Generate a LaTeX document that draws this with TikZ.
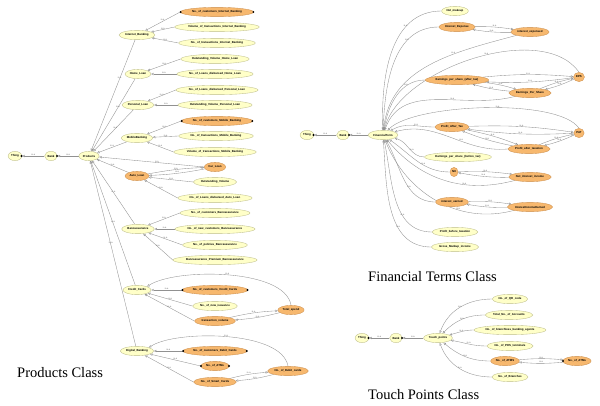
\documentclass[tikz,border=0pt]{standalone}
\usepackage{fontspec}
\setmainfont{Liberation Serif}
\newfontfamily\ndfam{Liberation Sans}
\usetikzlibrary{shapes.geometric,arrows.meta}
\definecolor{ylw}{RGB}{255,255,200}
\definecolor{ybd}{RGB}{190,190,140}
\definecolor{org}{RGB}{247,184,110}
\definecolor{obd}{RGB}{205,145,80}
\definecolor{eg}{RGB}{145,145,145}
\definecolor{lg}{RGB}{100,100,100}
\newcommand\ndfont{\ndfam\bfseries\fontsize{2.85}{3.2}\selectfont}
\newcommand\lbfont{\ndfam\fontsize{2.2}{2.5}\selectfont}
\pgfdeclarelayer{bg}
\pgfsetlayers{bg,main}
\tikzset{
  cls/.style={ellipse, draw=ybd, fill=ylw, line width=0.35pt, inner xsep=1pt, inner ysep=0pt, minimum height=9.3pt, font=\ndfont},
  hot/.style={cls, draw=obd, fill=org},
  isa/.style={draw=eg, line width=0.35pt, -{Triangle[open,length=2.5pt,width=2.3pt]}},
  lbl/.style={font=\lbfont, text=lg, inner sep=0.2pt, above},
  ttl/.style={font=\fontsize{14.5}{16}\selectfont, anchor=base west, inner sep=0pt},
}
\begin{document}
\begin{tikzpicture}[x=1pt,y=-1pt]
\useasboundingbox (0,0) rectangle (600,405);

% ---------------- Products ----------------
\node[cls] (T1) at (15,156) {Thing};
\node[cls] (B1) at (51,156) {Bank};
\node[cls] (P) at (89,156) {Products};
\node[cls] (IB) at (137,35) {Internet\_Banking};
\node[cls] (HL) at (138,74) {Home\_Loan};
\node[cls] (PL) at (138,105) {Personal\_Loan};
\node[cls] (MB) at (137,138) {MobileBanking};
\node[hot] (AL) at (137,176) {Auto\_Loan};
\node[cls] (BA) at (138,229) {Bancassurance};
\node[cls] (CC) at (137,290) {Credit\_Cards};
\node[cls] (DB) at (137,351) {Digital\_Banking};

\node[hot] (cIB1) at (217,12) {No.\_of\_customers\_Internet\_Banking};
\node[cls] (cIB2) at (217,27) {Volume\_of\_transactions\_Internet\_Banking};
\node[cls] (cIB3) at (217,43) {No.\_of\_transactions\_Internet\_Banking};
\node[cls] (cHL1) at (215,59) {Outstanding\_Volume\_Home\_Loan};
\node[cls] (cHL2) at (215,74) {No.\_of\_Loans\_disbursed\_Home\_Loan};
\node[cls] (cPL1) at (217,90) {No.\_of\_Loans\_disbursed\_Personal\_Loan};
\node[cls] (cPL2) at (215,105) {Outstanding\_Volume\_Personal\_Loan};
\node[hot] (cMB1) at (217,121) {No.\_of\_customers\_Mobile\_Banking};
\node[cls] (cMB2) at (216,136) {No.\_of\_transactions\_Mobile\_Banking};
\node[cls] (cMB3) at (215,152) {Volume\_of\_transactions\_Mobile\_Banking};
\node[hot] (CL) at (215,167) {Car\_Loan};
\node[cls] (cAL2) at (215,182) {Outstanding\_Volume};
\node[cls] (cAL3) at (215,198) {No.\_of\_Loans\_disbursed\_Auto\_Loan};
\node[cls] (cBA1) at (215,213) {No.\_of\_customers\_Bancassurance};
\node[cls] (cBA2) at (215,229) {No.\_of\_new\_customers\_Bancassurance};
\node[cls] (cBA3) at (215,245) {No.\_of\_policies\_Bancassurance};
\node[cls] (cBA4) at (215,260) {Bancassurance\_Premium\_Bancassurance};
\node[hot] (cCC1) at (215,290) {No.\_of\_customers\_Credit\_Cards};
\node[cls] (cCC2) at (215,306) {No.\_of\_new\_issuance};
\node[hot] (cCC3) at (215,321) {transaction\_volume};
\node[hot] (TS) at (291,310) {Total\_spend};
\node[hot] (cDB1) at (215,351) {No.\_of\_customers\_Debit\_Cards};
\node[hot] (cDB2) at (215,366) {No.\_of\_ATMs};
\node[hot] (cDB3) at (215,382) {No.\_of\_Smart\_Cards};
\node[hot] (DC) at (288,371) {No.\_of\_Debit\_cards};

% ---------------- Financial terms ----------------
\node[cls] (T2) at (307,135) {Thing};
\node[cls] (B2) at (343,135) {Bank};
\node[cls] (FT) at (383,135) {FinancialTerm};
\node[cls] (NM) at (455,11) {Net\_makeup};
\node[hot] (IE) at (457,27) {Interest\_Expense};
\node[hot] (ie) at (530,32) {interest\_expensed};
\node[hot] (EA) at (457,80) {Earnings\_per\_share\_(after\_tax)};
\node[hot] (EPS) at (579,77) {EPS};
\node[hot] (EPSh) at (530,93) {Earnings\_Per\_Share};
\node[hot] (PAT2) at (452,127) {Profit\_After\_Tax};
\node[hot] (PAT) at (579,133) {PAT};
\node[hot] (PaT) at (529,149) {Profit\_after\_taxation};
\node[cls] (EB) at (458,157) {Earnings\_per\_share\_(before\_tax)};
\node[hot] (NII) at (454,172) {NII};
\node[hot] (NIIn) at (530,177) {Net\_interest\_income};
\node[hot] (IEa) at (452,202) {interest\_earned};
\node[hot] (IIE) at (530,207) {InterestIncomeEarned};
\node[cls] (PBT) at (455,232) {Profit\_before\_taxation};
\node[cls] (GMI) at (455,247) {Gross\_Markup\_income};

% ---------------- Touch points ----------------
\node[cls] (T3) at (362,338) {Thing};
\node[cls] (B3) at (396,338) {Bank};
\node[cls] (TP) at (438,338) {Touch\_points};
\node[cls] (QR) at (510,299) {No.\_of\_QR\_code};
\node[cls] (TA) at (509,315) {Total\_No.\_of\_Accounts};
\node[cls] (BBA) at (510,330) {No.\_of\_branchless\_banking\_agents};
\node[cls] (POS) at (510,346) {No.\_of\_POS\_terminals};
\node[hot] (ATMS) at (505,361) {No.\_of\_ATMS};
\node[hot] (ATMs) at (577,361) {No.\_of\_ATMs};
\node[cls] (BR) at (510,377) {No.\_of\_Branches};

% markers
\foreach \n in {T1,B1,T2,B2,T3,B3}{\fill ([xshift=-0.6pt]\n.east) circle[radius=1.1pt];}
\foreach \n in {cIB1,cMB1,cCC1,cDB1,cDB2}{\fill ([xshift=0.4pt]\n.west) circle[radius=1.1pt]; \fill ([xshift=-0.4pt]\n.east) circle[radius=1.1pt];}
\fill ([xshift=0.4pt]ATMs.west) circle[radius=1.1pt];

% titles
\node[ttl] (tp) at (17,377) {Products Class};
\node[ttl] (tf) at (368,281.5) {Financial Terms Class};
\node[ttl] (tt) at (368,399) {Touch Points Class};

\begin{pgfonlayer}{bg}
\fill[white] (0,0) rectangle (600,405);
% products edges
\draw[isa] (B1) -- node[lbl]{is-a} (T1);
\draw[isa] (P) -- node[lbl]{is-a} (B1);
\foreach \c/\q in {IB/0.35,HL/0.4,PL/0.45,MB/0.5,AL/0.5,BA/0.5,CC/0.5,DB/0.55}{
  \draw[isa] (\c) -- node[lbl,pos=\q]{is-a} (P);}
\draw[isa] (CL.west) -- node[lbl,pos=0.45]{is-a} (P);
\foreach \c/\p in {cIB1/IB,cIB2/IB,cIB3/IB,cHL1/HL,cHL2/HL,cPL1/PL,cPL2/PL,cMB1/MB,cMB2/MB,cMB3/MB,cAL2/AL,cAL3/AL,cBA1/BA,cBA2/BA,cBA3/BA,cBA4/BA,cCC1/CC,cCC2/CC,cCC3/CC,cDB1/DB,cDB2/DB,cDB3/DB}{
  \draw[isa] (\c.west) -- node[lbl]{is-a} (\p);}
\draw[isa] (AL) to[bend left=4] node[lbl]{is-a} (CL);
\draw[isa] (CL) to[bend left=4] node[lbl]{is-a} (AL);
\draw[isa] (TS.north) .. controls (285,268) and (175,268) .. node[lbl]{is-a} (CC.north east);
\draw[isa] (cCC3) to[bend left=5] node[lbl]{is-a} (TS);
\draw[isa] (TS) to[bend left=5] node[lbl]{is-a} (cCC3);
\draw[isa] (DC.north) .. controls (282,330) and (175,330) .. node[lbl]{is-a} (DB.north east);
\draw[isa] (cDB3) to[bend left=5] node[lbl]{is-a} (DC);
\draw[isa] (DC) to[bend left=5] node[lbl]{is-a} (cDB3);

% financial edges
\draw[isa] (B2) -- node[lbl]{is-a} (T2);
\draw[isa] (FT) -- node[lbl]{is-a} (B2);
\draw[isa] (NM.west) to[out=180,in=92] node[lbl,pos=0.3]{is-a} (FT);
\draw[isa] (IE.west) to[out=180,in=88] node[lbl,pos=0.3]{is-a} (FT);
\draw[isa] (ie.south west) to[out=195,in=84] node[lbl,pos=0.35]{is-a} (FT);
\draw[isa] (EA.west) to[out=180,in=80] node[lbl,pos=0.3]{is-a} (FT);
\draw[isa] (EPS.north) to[out=125,in=76,looseness=0.8] node[lbl,pos=0.45]{is-a} (FT);
\draw[isa] (EPSh.south west) to[out=195,in=70] node[lbl,pos=0.4]{is-a} (FT);
\draw[isa] (PAT.north) to[out=125,in=45,looseness=0.5] node[lbl,pos=0.45]{is-a} (FT);
\draw[isa] (PAT2.west) to[out=180,in=30] node[lbl,pos=0.4]{is-a} (FT);
\draw[isa] (PaT.west) to[out=185,in=15] node[lbl,pos=0.4]{is-a} (FT);
\draw[isa] (EB.west) to[out=180,in=-15] node[lbl,pos=0.4]{is-a} (FT);
\draw[isa] (NII.west) to[out=180,in=-35] node[lbl,pos=0.4]{is-a} (FT);
\draw[isa] (NIIn.south west) to[out=195,in=-50] node[lbl,pos=0.35]{is-a} (FT);
\draw[isa] (IEa.west) to[out=180,in=-60] node[lbl,pos=0.4]{is-a} (FT);
\draw[isa] (IIE.south west) to[out=195,in=-68] node[lbl,pos=0.35]{is-a} (FT);
\draw[isa] (PBT.west) to[out=180,in=-78] node[lbl,pos=0.35]{is-a} (FT);
\draw[isa] (GMI.west) to[out=180,in=-86] node[lbl,pos=0.35]{is-a} (FT);
\foreach \a/\b in {IE/ie,EA/EPS,EA/EPSh,EPSh/EPS,PAT2/PAT,PAT2/PaT,PaT/PAT,NII/NIIn,IEa/IIE}{
  \draw[isa] (\a) to[bend left=5] node[lbl]{is-a} (\b);
  \draw[isa] (\b) to[bend left=5] node[lbl]{is-a} (\a);}

% touch points edges
\draw[isa] (B3) -- node[lbl]{is-a} (T3);
\draw[isa] (TP) -- node[lbl]{is-a} (B3);
\draw[isa] (QR.west) to[out=180,in=70] node[lbl,pos=0.5]{is-a} (TP);
\draw[isa] (TA.west) to[out=180,in=45] node[lbl,pos=0.5]{is-a} (TP);
\draw[isa] (BBA.west) to[out=180,in=15] node[lbl,pos=0.5]{is-a} (TP);
\draw[isa] (POS.west) to[out=180,in=-10] node[lbl,pos=0.5]{is-a} (TP);
\draw[isa] (ATMS.west) to[out=180,in=-40] node[lbl,pos=0.5]{is-a} (TP);
\draw[isa] (BR.west) to[out=180,in=-70] node[lbl,pos=0.5]{is-a} (TP);
\draw[isa] (ATMS) to[bend left=5] node[lbl]{is-a} (ATMs);
\draw[isa] (ATMs) to[bend left=5] node[lbl]{is-a} (ATMS);
\end{pgfonlayer}
\end{tikzpicture}
\end{document}
